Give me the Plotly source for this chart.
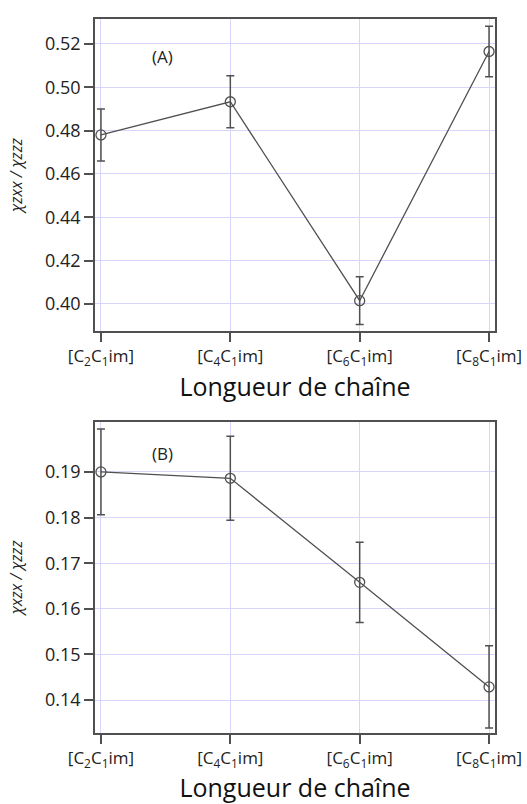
import plotly.graph_objects as go

categories = ["[C<sub>2</sub>C<sub>1</sub>im]", "[C<sub>4</sub>C<sub>1</sub>im]",
              "[C<sub>6</sub>C<sub>1</sub>im]", "[C<sub>8</sub>C<sub>1</sub>im]"]
ratio_A = [0.478, 0.4933, 0.4015, 0.5165]
err_A = [0.012, 0.012, 0.011, 0.0117]
ratio_B = [0.190, 0.1886, 0.1658, 0.1429]
err_B = [0.0094, 0.0092, 0.0088, 0.0090]
ticks_A = [0.40, 0.42, 0.44, 0.46, 0.48, 0.50, 0.52]
ticks_B = [0.14, 0.15, 0.16, 0.17, 0.18, 0.19]

FONT = "Open Sans"
LINE = "#505050"
GRID = "#d6d6fa"

fig = go.Figure()
for data, err, xa, ya in [(ratio_A, err_A, "x", "y"), (ratio_B, err_B, "x2", "y2")]:
    fig.add_trace(go.Scatter(
        x=categories, y=data, xaxis=xa, yaxis=ya, mode="lines+markers",
        line=dict(color=LINE, width=1.3),
        marker=dict(symbol="circle-open", size=10, color=LINE, line=dict(width=1.3)),
        error_y=dict(type="data", array=err, visible=True, color=LINE, thickness=1.5, width=4),
        showlegend=False,
    ))

axis_common = dict(
    showline=True, linecolor=LINE, linewidth=1.5, mirror=True,
    ticks="outside", ticklen=9, tickwidth=1.5, tickcolor=LINE,
    showgrid=True, gridcolor=GRID, gridwidth=1, zeroline=False,
    automargin=False,
)
xtickfont = dict(family=FONT, size=17, color="#222")
ytickfont = dict(family=FONT, size=18, color="#222")
xtitlefont = dict(family=FONT, size=25, color="#111")
ytitlefont = dict(family=FONT, size=16, color="#222")

xrange = [-0.046, 3.046]
fig.update_layout(
    width=527, height=804,
    margin=dict(l=95, r=32, t=19, b=71),
    paper_bgcolor="white", plot_bgcolor="white",
    xaxis=dict(domain=[0, 1], anchor="y", type="category", range=xrange,
               tickfont=xtickfont,
               title=dict(text="Longueur de chaîne", standoff=10, font=xtitlefont),
               **axis_common),
    yaxis=dict(domain=[0.563, 1], anchor="x", range=[0.3875, 0.5315], tickvals=ticks_A,
               tickformat=".2f", tickfont=ytickfont,
               title=dict(text="<i>χzxx / χzzz</i>", standoff=18, font=ytitlefont),
               **axis_common),
    xaxis2=dict(domain=[0, 1], anchor="y2", type="category", range=xrange,
                tickfont=xtickfont,
                title=dict(text="Longueur de chaîne", standoff=10, font=xtitlefont),
                **axis_common),
    yaxis2=dict(domain=[0, 0.436], anchor="x2", range=[0.1328, 0.2010], tickvals=ticks_B,
                tickformat=".2f", tickfont=ytickfont,
                title=dict(text="<i>χxzx / χzzz</i>", standoff=18, font=ytitlefont),
                **axis_common),
    annotations=[
        dict(text="(A)", xref="x domain", yref="y domain", x=0.1375, y=0.923,
             showarrow=False, font=dict(family=FONT, size=17, color="#222")),
        dict(text="(B)", xref="x2 domain", yref="y2 domain", x=0.1375, y=0.941,
             showarrow=False, font=dict(family=FONT, size=17, color="#222")),
    ],
)

fig.write_html(
    "out.html",
    config={"displayModeBar": False},
    post_script="document.body.style.margin='0';document.body.style.overflow='hidden';",
)
